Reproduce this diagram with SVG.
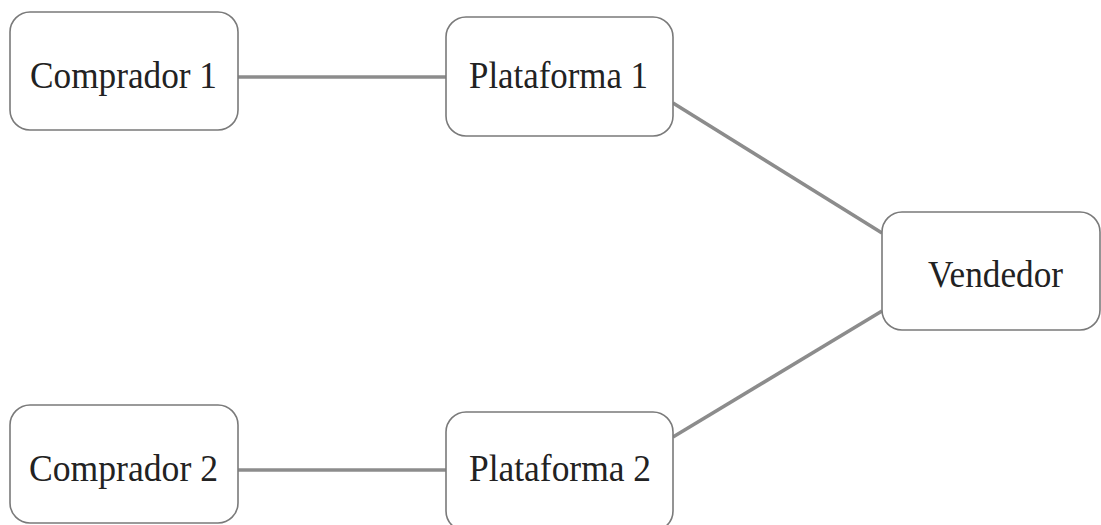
<svg xmlns="http://www.w3.org/2000/svg" width="1101" height="525" viewBox="0 0 1101 525">
<style>
.box{fill:#fff;stroke:#7a7a7a;stroke-width:1.6}
.lbl{font-family:"Liberation Serif","Times New Roman",serif;font-size:38px;fill:#222;text-anchor:middle}
.edge{stroke:#8c8c8c;stroke-width:3.5;fill:none}
</style>
<rect width="1101" height="525" fill="#fff"/>
<g id="connectors">
<line class="edge" x1="238" y1="77" x2="446" y2="77"/>
<line class="edge" x1="238" y1="470" x2="446" y2="470"/>
<line class="edge" x1="673" y1="103" x2="882" y2="233"/>
<line class="edge" x1="673" y1="437" x2="882" y2="311"/>
</g>
<g id="comprador1"><rect class="box" x="10" y="12" width="228" height="118" rx="20"/><text class="lbl" x="123.5" y="88" textLength="187" lengthAdjust="spacingAndGlyphs">Comprador 1</text></g>
<g id="plataforma1"><rect class="box" x="446" y="17" width="227" height="119" rx="20"/><text class="lbl" x="558.5" y="88" textLength="179" lengthAdjust="spacingAndGlyphs">Plataforma 1</text></g>
<g id="vendedor"><rect class="box" x="882" y="212" width="218" height="118" rx="20"/><text class="lbl" x="995.5" y="287" textLength="135" lengthAdjust="spacingAndGlyphs">Vendedor</text></g>
<g id="comprador2"><rect class="box" x="10" y="405" width="228" height="118" rx="20"/><text class="lbl" x="123.5" y="481" textLength="189" lengthAdjust="spacingAndGlyphs">Comprador 2</text></g>
<g id="plataforma2"><rect class="box" x="446" y="412" width="227" height="119" rx="20"/><text class="lbl" x="560" y="481" textLength="182" lengthAdjust="spacingAndGlyphs">Plataforma 2</text></g>
</svg>
